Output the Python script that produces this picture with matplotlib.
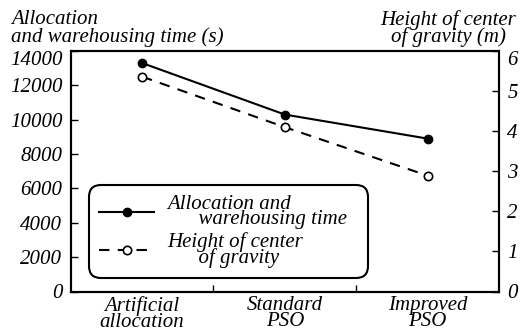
import matplotlib
matplotlib.use("Agg")
import matplotlib.pyplot as plt

categories = ["Artificial\nallocation", "Standard\nPSO", "Improved\nPSO"]
time_values = [13300, 10300, 8900]
height_values = [5.36, 4.10, 2.89]
left_ticks = [0, 2000, 4000, 6000, 8000, 10000, 12000, 14000]
right_ticks = [0, 1, 2, 3, 4, 5, 6]

plt.rcParams["font.family"] = ["Liberation Serif", "DejaVu Serif"]
plt.rcParams["font.style"] = "italic"
plt.rcParams["font.size"] = 15

fig = plt.figure(figsize=(5.21, 3.32), dpi=100)
ax = fig.add_axes([70.7 / 521, 1 - 291.5 / 332, 428.3 / 521, 240.5 / 332])
ax2 = ax.twinx()

x = list(range(len(categories)))
l1, = ax.plot(x, time_values, color="black", lw=1.5, marker="o", ms=6,
              mfc="black", mec="black",
              label="Allocation and\n      warehousing time  ")
l2, = ax2.plot(x, height_values, color="black", lw=1.5, ls=(0, (5, 4)),
               marker="o", ms=6, mfc="white", mec="black", mew=1.2,
               label="Height of center\n      of gravity")

ax.set_xlim(-0.5, 2.5)
ax.set_ylim(0, 14000)
ax2.set_ylim(0, 6)
ax.set_yticks(left_ticks)
ax2.set_yticks(right_ticks)
ax.set_xticks([0.5, 1.5])
ax.set_xticklabels([])
ax.tick_params(axis="x", direction="in", length=5, width=1)
ax.tick_params(axis="y", direction="in", length=5, width=1, pad=6)
ax2.tick_params(axis="y", direction="in", length=5, width=1, pad=6)
for a in (ax, ax2):
    for s in a.spines.values():
        s.set_linewidth(1.5)

# top tick labels sit just below the top spine, as in the original
ax.get_yticklabels()[-1].set_va("top")
ax2.get_yticklabels()[-1].set_va("top")

for i, c in enumerate(categories):
    ax.text(i, -0.02, c, transform=ax.get_xaxis_transform(), ha="center",
            va="top", linespacing=0.75)

fig.text(11 / 521, 1 - 10 / 332, "Allocation\nand warehousing time (s)",
         ha="left", va="top", linespacing=0.85)
fig.text(516 / 521, 1 - 10 / 332, "Height of center\nof gravity (m)",
         ha="right", va="top", multialignment="center", linespacing=0.8)

leg = ax2.legend(handles=[l1, l2], loc="lower left",
                 bbox_to_anchor=(0.042, 0.056), borderaxespad=0,
                 handlelength=2.65, handletextpad=0.62, labelspacing=0.15,
                 borderpad=0.5, fancybox=True, framealpha=1,
                 edgecolor="black")
leg.get_frame().set_linewidth(1.5)
leg.get_frame().set_boxstyle("round", pad=0, rounding_size=0.6)
for t in leg.get_texts():
    t.set_multialignment("left")
    t.set_linespacing(0.7)

fig.savefig("out.png", dpi=100)
